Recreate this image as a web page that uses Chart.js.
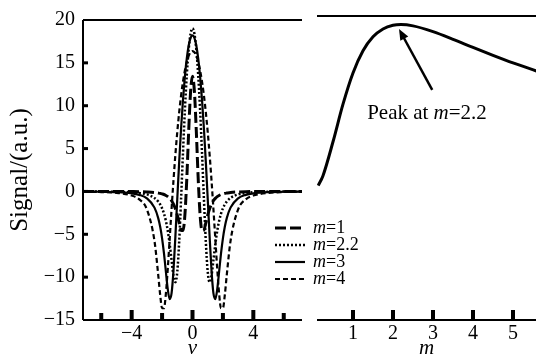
<!DOCTYPE html>
<html>
<head>
<meta charset="utf-8">
<script src="https://cdn.jsdelivr.net/npm/chart.js@4.4.0/dist/chart.umd.min.js"></script>
<style>
  html, body { margin: 0; padding: 0; background: #fff; }
  #wrap { position: relative; width: 536px; height: 356px; overflow: hidden; background: #fff; }
  #left { position: absolute; left: 0; top: 0; z-index: 2; }
  #right { position: absolute; left: 305px; top: 0; z-index: 1; }
</style>
</head>
<body>
<div id="wrap">
  <canvas id="left" width="380" height="356" style="width:380px;height:356px"></canvas>
  <canvas id="right" width="231" height="356" style="width:231px;height:356px"></canvas>
</div>
<script>
// detuning v (left panel)
const vValues = [-7.2, -6, -5, -4, -3.5, -3, -2.5, -2.25, -2.125, -2, -1.875, -1.75, -1.625, -1.5, -1.375, -1.25, -1.125, -1, -0.875, -0.75, -0.625, -0.5, -0.375, -0.25, -0.125,
  0, 0.125, 0.25, 0.375, 0.5, 0.625, 0.75, 0.875, 1, 1.125, 1.25, 1.375, 1.5, 1.625, 1.75, 1.875, 2, 2.125, 2.25, 2.5, 3, 3.5, 4, 5, 6, 7.2];

const sigM1 = [0, 0, -0.01, -0.02, -0.03, -0.06, -0.12, -0.19, -0.23, -0.29, -0.36, -0.47, -0.61, -0.81, -1.09, -1.49, -2.03, -2.77, -3.68, -4.50, -4.56, -2.75, 1.48, 7.05, 11.67,
  13.45, 11.67, 7.05, 1.48, -2.75, -4.56, -4.50, -3.68, -2.77, -2.03, -1.49, -1.09, -0.81, -0.61, -0.47, -0.36, -0.29, -0.23, -0.19, -0.12, -0.06, -0.03, -0.02, -0.01, 0, 0];
const sigM22 = [-0.01, -0.02, -0.04, -0.10, -0.18, -0.35, -0.76, -1.19, -1.52, -1.97, -2.59, -3.44, -4.61, -6.16, -8.03, -9.82, -10.60, -9.35, -5.84, -0.84, 4.54, 9.50, 13.58, 16.58, 18.40,
  19.01, 18.40, 16.58, 13.58, 9.50, 4.54, -0.84, -5.84, -9.35, -10.60, -9.82, -8.03, -6.16, -4.61, -3.44, -2.59, -1.97, -1.52, -1.19, -0.76, -0.35, -0.18, -0.10, -0.04, -0.02, -0.01];
const sigM3 = [-0.02, -0.04, -0.08, -0.22, -0.40, -0.80, -1.89, -3.14, -4.13, -5.47, -7.24, -9.36, -11.43, -12.57, -11.87, -9.21, -5.25, -0.83, 3.48, 7.37, 10.70, 13.42, 15.52, 17.02, 17.91,
  18.20, 17.91, 17.02, 15.52, 13.42, 10.70, 7.37, 3.48, -0.83, -5.25, -9.21, -11.87, -12.57, -11.43, -9.36, -7.24, -5.47, -4.13, -3.14, -1.89, -0.80, -0.40, -0.22, -0.08, -0.04, -0.02];
const sigM4 = [-0.03, -0.07, -0.17, -0.48, -0.93, -2.10, -5.79, -9.81, -12.08, -13.62, -13.63, -11.92, -9.00, -5.54, -2.02, 1.29, 4.30, 6.95, 9.25, 11.20, 12.82, 14.12, 15.12, 15.82, 16.24,
  16.38, 16.24, 15.82, 15.12, 14.12, 12.82, 11.20, 9.25, 6.95, 4.30, 1.29, -2.02, -5.54, -9.00, -11.92, -13.63, -13.62, -12.08, -9.81, -5.79, -2.10, -0.93, -0.48, -0.17, -0.07, -0.03];
const seriesLabels = ['m=1', 'm=2.2', 'm=3', 'm=4'];

// peak signal vs modulation index m (right panel)
const mValues = [0.13, 0.25, 0.5, 0.75, 1, 1.25, 1.5, 1.75, 2, 2.2, 2.5, 3, 3.5, 4, 4.5, 5, 5.6];
const peakSignal = [0.47, 1.62, 5.52, 9.85, 13.44, 15.99, 17.60, 18.51, 18.93, 19.01, 18.86, 18.20, 17.32, 16.38, 15.47, 14.60, 13.65];

const vTicks = [-6, -4, -2, 0, 2, 4, 6];
const vLabelled = [-4, 0, 4];
const yTicks = [-15, -10, -5, 0, 5, 10, 15, 20];
const mTicks = [1, 2, 3, 4, 5];
const peakNote = 'Peak at m=2.2';

const FONT = '"Liberation Serif", "Times New Roman", serif';
Chart.defaults.font.family = FONT;
Chart.defaults.color = '#000';

const fmt = v => (v < 0 ? '\u2212' + Math.abs(v) : String(v));

// text with an italic "m" before "="
function drawRich(ctx, str, x, y, size, align) {
  const bits = str.split('m=');
  const parts = [];
  bits.forEach((b, i) => {
    if (i > 0) { parts.push({ t: 'm', it: true }); b = '=' + b; }
    if (b) parts.push({ t: b, it: false });
  });
  const fontOf = p => (p.it ? 'italic ' : '') + size + 'px ' + FONT;
  let w = 0;
  parts.forEach(p => { ctx.font = fontOf(p); w += ctx.measureText(p.t).width; });
  let cx = align === 'center' ? x - w / 2 : x;
  ctx.textBaseline = 'middle';
  ctx.textAlign = 'left';
  ctx.fillStyle = '#000';
  parts.forEach(p => { ctx.font = fontOf(p); ctx.fillText(p.t, cx, y); cx += ctx.measureText(p.t).width; });
}

const framePlugin = {
  id: 'frame',
  afterDraw(chart, args, opts) {
    const { ctx, chartArea: a } = chart;
    const xs = chart.scales.x, ys = chart.scales.y;
    ctx.save();
    ctx.strokeStyle = '#000';
    ctx.lineWidth = 2;
    ctx.beginPath();
    ctx.moveTo(a.left, a.top); ctx.lineTo(a.right, a.top);
    ctx.moveTo(a.left, a.bottom); ctx.lineTo(a.right, a.bottom);
    if (opts.leftAxis) { ctx.moveTo(a.left, a.top); ctx.lineTo(a.left, a.bottom); }
    ctx.stroke();
    ctx.fillStyle = '#000';
    xs.ticks.forEach(t => {
      const px = xs.getPixelForValue(t.value);
      const h = opts.majorX.includes(t.value) ? 10 : 7;
      ctx.fillRect(px - 2, a.bottom - h, 4, h);
    });
    if (opts.leftAxis) {
      ys.ticks.forEach(t => {
        if (t.value === ys.min || t.value === ys.max) return;
        const py = ys.getPixelForValue(t.value);
        ctx.fillRect(a.left, py - 1.5, 5, 3);
      });
    }
    ctx.restore();
  }
};

const legendPlugin = {
  id: 'sideLegend',
  afterDatasetsDraw(chart) {
    const { ctx, chartArea: a } = chart;
    ctx.save();
    chart.data.datasets.forEach((ds, i) => {
      const y = 228 + i * 17;
      ctx.strokeStyle = ds.borderColor;
      ctx.lineWidth = ds.borderWidth;
      ctx.setLineDash(ds.borderDash || []);
      ctx.beginPath();
      ctx.moveTo(a.right - 27, y); ctx.lineTo(a.right + 3, y);
      ctx.stroke();
      ctx.setLineDash([]);
      drawRich(ctx, ds.label, a.right + 11, y, 18, 'left');
    });
    ctx.restore();
  }
};

const notePlugin = {
  id: 'note',
  afterDatasetsDraw(chart) {
    const { ctx } = chart;
    const xs = chart.scales.x, ys = chart.scales.y;
    const x0 = xs.getPixelForValue(2.98), y0 = ys.getPixelForValue(11.5);
    const x1 = xs.getPixelForValue(2.15), y1 = ys.getPixelForValue(18.5);
    ctx.save();
    ctx.strokeStyle = '#000';
    ctx.fillStyle = '#000';
    ctx.lineWidth = 2.5;
    const ang = Math.atan2(y1 - y0, x1 - x0);
    const L = 11, W = 4.5;
    ctx.beginPath();
    ctx.moveTo(x0, y0);
    ctx.lineTo(x1 - Math.cos(ang) * L * 0.8, y1 - Math.sin(ang) * L * 0.8);
    ctx.stroke();
    ctx.beginPath();
    ctx.moveTo(x1, y1);
    ctx.lineTo(x1 - Math.cos(ang) * L - Math.sin(ang) * W, y1 - Math.sin(ang) * L + Math.cos(ang) * W);
    ctx.lineTo(x1 - Math.cos(ang) * L + Math.sin(ang) * W, y1 - Math.sin(ang) * L - Math.cos(ang) * W);
    ctx.closePath();
    ctx.fill();
    drawRich(ctx, peakNote, xs.getPixelForValue(2.85), ys.getPixelForValue(8.8), 21, 'center');
    ctx.restore();
  }
};

const styles = [
  { borderWidth: 3, borderDash: [11, 4] },
  { borderWidth: 2.5, borderDash: [2, 2] },
  { borderWidth: 2.2, borderDash: [] },
  { borderWidth: 2.2, borderDash: [5, 3] }
];
const leftSeries = [sigM1, sigM22, sigM3, sigM4];

new Chart(document.getElementById('left'), {
  type: 'line',
  data: {
    datasets: leftSeries.map((s, i) => ({
      label: seriesLabels[i],
      data: vValues.map((v, j) => ({ x: v, y: s[j] })),
      borderColor: '#000',
      borderWidth: styles[i].borderWidth,
      borderDash: styles[i].borderDash,
      pointRadius: 0,
      fill: false,
      cubicInterpolationMode: 'monotone'
    }))
  },
  options: {
    responsive: false,
    animation: false,
    events: [],
    layout: { padding: { top: 16, right: 78, left: 0, bottom: 0 } },
    plugins: {
      legend: { display: false },
      tooltip: { enabled: false },
      frame: { leftAxis: true, majorX: vLabelled }
    },
    scales: {
      x: {
        type: 'linear', min: -7.2, max: 7.2,
        afterBuildTicks: s => { s.ticks = vTicks.map(v => ({ value: v })); },
        afterFit: s => { s.height = 36; },
        grid: { display: false, drawTicks: false },
        border: { display: false },
        ticks: {
          autoSkip: false, maxRotation: 0, padding: 2,
          font: { size: 20 },
          callback: v => (vLabelled.includes(v) ? fmt(v) : '')
        },
        title: { display: true, text: 'v', font: { size: 21, style: 'italic', lineHeight: 0.7 }, padding: { top: 0, bottom: 0 } }
      },
      y: {
        min: -15, max: 20,
        afterBuildTicks: s => { s.ticks = yTicks.map(v => ({ value: v })); },
        afterFit: s => { s.width = 83; },
        grid: { display: false, drawTicks: false },
        border: { display: false },
        ticks: { padding: 8, font: { size: 20 }, callback: v => fmt(v) },
        title: { display: true, text: 'Signal/(a.u.)', font: { size: 25, lineHeight: 1 }, padding: { top: 8, bottom: 0 } }
      }
    }
  },
  plugins: [framePlugin, legendPlugin]
});

new Chart(document.getElementById('right'), {
  type: 'line',
  data: {
    datasets: [{
      label: 'peak',
      data: mValues.map((m, j) => ({ x: m, y: peakSignal[j] })),
      borderColor: '#000',
      borderWidth: 3,
      pointRadius: 0,
      fill: false,
      cubicInterpolationMode: 'monotone'
    }]
  },
  options: {
    responsive: false,
    animation: false,
    events: [],
    layout: { padding: { top: 16, right: 0, left: 12, bottom: 0 } },
    plugins: {
      legend: { display: false },
      tooltip: { enabled: false },
      frame: { leftAxis: false, majorX: mTicks }
    },
    scales: {
      x: {
        type: 'linear', min: 0.1, max: 5.575,
        afterBuildTicks: s => { s.ticks = mTicks.map(v => ({ value: v })); },
        afterFit: s => { s.height = 36; },
        grid: { display: false, drawTicks: false },
        border: { display: false },
        ticks: { autoSkip: false, maxRotation: 0, padding: 2, font: { size: 20 } },
        title: { display: true, text: 'm', font: { size: 21, style: 'italic', lineHeight: 0.7 }, padding: { top: 0, bottom: 0 } }
      },
      y: { display: false, min: -15, max: 20 }
    }
  },
  plugins: [framePlugin, notePlugin]
});
</script>
</body>
</html>
